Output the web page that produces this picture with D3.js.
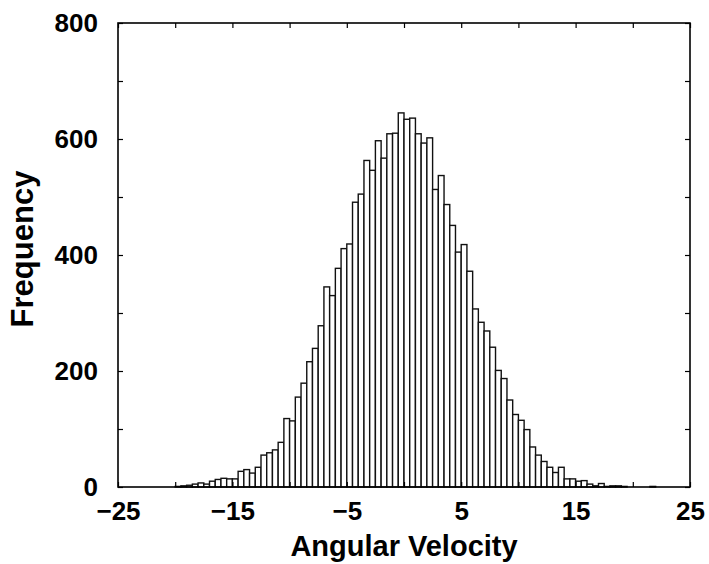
<!DOCTYPE html>
<html>
<head>
<meta charset="utf-8">
<script src="https://cdn.jsdelivr.net/npm/d3@7"></script>
<style>
  body { margin: 0; padding: 0; background: #fff; }
  svg { display: block; }
  text { font-family: "Liberation Sans", Arial, sans-serif; font-weight: bold; fill: #000; }
</style>
</head>
<body>
<div id="main"></div>
<script>
// left edge of each 0.5-wide bin
const binLeft = [
  -20, -19.5, -19, -18.5, -18, -17.5, -17, -16.5, -16, -15.5,
  -15, -14.5, -14, -13.5, -13, -12.5, -12, -11.5, -11, -10.5,
  -10, -9.5, -9, -8.5, -8, -7.5, -7, -6.5, -6, -5.5,
  -5, -4.5, -4, -3.5, -3, -2.5, -2, -1.5, -1, -0.5,
  0, 0.5, 1, 1.5, 2, 2.5, 3, 3.5, 4, 4.5,
  5, 5.5, 6, 6.5, 7, 7.5, 8, 8.5, 9, 9.5,
  10, 10.5, 11, 11.5, 12, 12.5, 13, 13.5, 14, 14.5,
  15, 15.5, 16, 16.5, 17, 17.5, 18, 18.5, 19, 19.5,
  20, 20.5, 21, 21.5
];
const counts = [
  1, 2, 3, 5, 7, 5, 10, 13, 15, 14,
  14, 27, 30, 24, 34, 55, 59, 64, 77, 118,
  114, 155, 179, 216, 239, 278, 345, 330, 377, 411,
  419, 491, 505, 563, 546, 597, 567, 609, 610, 645,
  634, 636, 609, 593, 602, 513, 537, 487, 451, 405,
  418, 372, 307, 284, 269, 241, 201, 187, 150, 125,
  115, 99, 69, 55, 44, 34, 25, 34, 14, 14,
  10, 11, 5, 2, 6, 1, 2, 2, 1, 0,
  0, 0, 0, 1
];
const binWidth = 0.5;
const xTicks = [-25, -20, -15, -10, -5, 0, 5, 10, 15, 20, 25];
const xLabels = [-25, -15, -5, 5, 15, 25];
const yTicks = [0, 100, 200, 300, 400, 500, 600, 700, 800];
const yLabels = [0, 200, 400, 600, 800];

const WIDTH = 709, HEIGHT = 564;
const LEFT = 118, RIGHT = 690, TOP = 23, BOTTOM = 487;

const svg = d3.select('#main').append('svg')
  .attr('width', WIDTH)
  .attr('height', HEIGHT);

const x = d3.scaleLinear().domain([-25, 25]).range([LEFT, RIGHT]);
const y = d3.scaleLinear().domain([0, 800]).range([BOTTOM, TOP]);

const bins = binLeft.map((b, i) => ({x0: b, x1: b + binWidth, n: counts[i]})).filter(d => d.n > 0);

svg.append('g')
  .selectAll('rect')
  .data(bins)
  .enter().append('rect')
  .attr('x', d => x(d.x0))
  .attr('y', d => y(d.n))
  .attr('width', d => x(d.x1) - x(d.x0))
  .attr('height', d => y(0) - y(d.n))
  .attr('fill', '#fff')
  .attr('stroke', '#111')
  .attr('stroke-width', 1.4);

const minus = (v) => (v < 0 ? '\u2212' + Math.abs(v) : String(v));

// inward ticks on all four sides
const tickStyle = (g) => {
  g.select('.domain').remove();
  g.selectAll('.tick line').attr('stroke', '#000').attr('stroke-width', 1.2);
  g.selectAll('.tick text').remove();
};
svg.append('g').attr('transform', `translate(0,${BOTTOM})`)
  .call(d3.axisBottom(x).tickValues(xTicks).tickSize(-5)).call(tickStyle);
svg.append('g').attr('transform', `translate(0,${TOP})`)
  .call(d3.axisTop(x).tickValues(xTicks).tickSize(-5)).call(tickStyle);
svg.append('g').attr('transform', `translate(${LEFT},0)`)
  .call(d3.axisLeft(y).tickValues(yTicks).tickSize(-5)).call(tickStyle);
svg.append('g').attr('transform', `translate(${RIGHT},0)`)
  .call(d3.axisRight(y).tickValues(yTicks).tickSize(-5)).call(tickStyle);

// labels
const labelStyle = (g) => {
  g.select('.domain').remove();
  g.selectAll('.tick line').remove();
  g.selectAll('.tick text').attr('font-size', 26).attr('font-family', null).attr('fill', '#000');
};
svg.append('g').attr('transform', `translate(0,${BOTTOM})`)
  .call(d3.axisBottom(x).tickValues(xLabels).tickSize(0).tickPadding(15).tickFormat(minus))
  .call(labelStyle);
svg.append('g').attr('transform', `translate(${LEFT},0)`)
  .call(d3.axisLeft(y).tickValues(yLabels).tickSize(0).tickPadding(20).tickFormat(minus))
  .call(labelStyle);

// frame
svg.append('rect')
  .attr('x', LEFT).attr('y', TOP)
  .attr('width', RIGHT - LEFT).attr('height', BOTTOM - TOP)
  .attr('fill', 'none').attr('stroke', '#000').attr('stroke-width', 1.6);

svg.append('text')
  .attr('x', (LEFT + RIGHT) / 2)
  .attr('y', 556)
  .attr('text-anchor', 'middle')
  .attr('font-size', 29)
  .text('Angular Velocity');

svg.append('text')
  .attr('transform', `translate(33,249) rotate(-90)`)
  .attr('text-anchor', 'middle')
  .attr('font-size', 31)
  .text('Frequency');
</script>
</body>
</html>
